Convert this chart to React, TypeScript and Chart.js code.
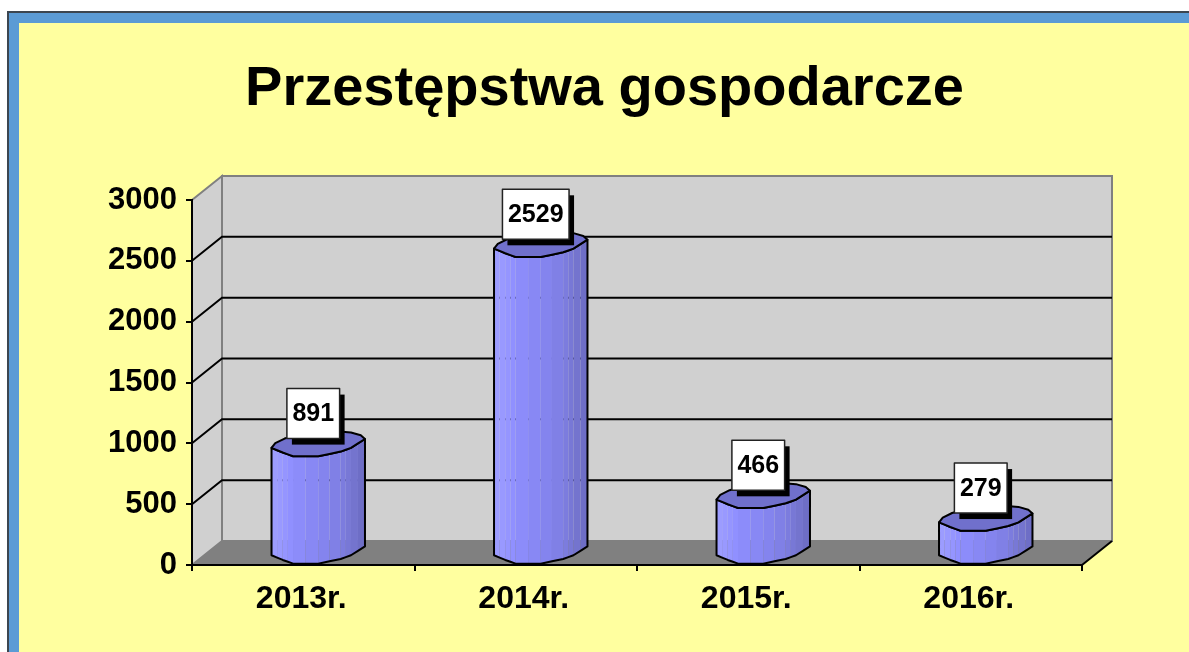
import React, { useEffect, useRef } from "react";
import { Chart, registerables } from "chart.js";

Chart.register(...registerables);

const titleText = "Przestępstwa gospodarcze";
const categories = ["2013r.", "2014r.", "2015r.", "2016r."];
const values = [891, 2529, 466, 279];
const yTickStep = 500;
const yMax = 3000;

const FONT = '"Liberation Sans", Arial, sans-serif';
const DEPTH_X = 30;
const DEPTH_Y = 24;

// Outline of a bar's cap, as fractions of half-width
const capFront: [number, number][] = [
  [-1, 0.07],
  [-0.76, 0.17],
  [-0.54, 0.25],
  [0, 0.25],
  [0.48, 0.15],
  [0.7, 0.07],
  [1, -0.12],
];
const capBack: [number, number][] = [
  [0.91, -0.2],
  [0.7, -0.26],
  [0.2, -0.3],
  [-0.4, -0.22],
  [-0.72, -0.13],
  [-0.92, -0.03],
];
const stripColors = [
  "#9C9CFF", "#9999FF", "#9595FF", "#9090FF", "#8C8CFA", "#8888F4",
  "#8484EE", "#8080E6", "#7C7CDE", "#7878D6", "#7474CE", "#6E6EC6",
];

const frameBackground = {
  id: "frameBackground",
  beforeDraw(chart: any) {
    const { ctx, width, height } = chart;
    ctx.save();
    ctx.fillStyle = "#FFFFFF";
    ctx.fillRect(0, 0, width, height);
    ctx.fillStyle = "#3C4650";
    ctx.fillRect(7, 11, width - 7, height - 11);
    ctx.fillStyle = "#5B9BD5";
    ctx.fillRect(9, 13, width - 9, height - 13);
    ctx.fillStyle = "#FFFF9F";
    ctx.fillRect(19, 23, width - 19, height - 23);
    ctx.restore();
  },
};

const walls3d = {
  id: "walls3d",
  beforeDraw(chart: any) {
    const { ctx, chartArea: a, scales } = chart;
    const y = scales.y;
    const poly = (pts: number[][], fill: string | null, stroke: string | null, lw = 2) => {
      ctx.beginPath();
      pts.forEach(([px, py], i) => (i ? ctx.lineTo(px, py) : ctx.moveTo(px, py)));
      ctx.closePath();
      if (fill) { ctx.fillStyle = fill; ctx.fill(); }
      if (stroke) { ctx.strokeStyle = stroke; ctx.lineWidth = lw; ctx.stroke(); }
    };
    ctx.save();
    const dx = DEPTH_X, dy = DEPTH_Y;
    poly([[a.left + dx, a.top - dy], [a.right + dx, a.top - dy], [a.right + dx, a.bottom - dy], [a.left + dx, a.bottom - dy]], "#D0D0D0", "#808080");
    poly([[a.left, a.top], [a.left + dx, a.top - dy], [a.left + dx, a.bottom - dy], [a.left, a.bottom]], "#D0D0D0", "#808080");
    poly([[a.left, a.bottom], [a.left + dx, a.bottom - dy], [a.right + dx, a.bottom - dy], [a.right, a.bottom]], "#808080", null);
    ctx.strokeStyle = "#000000";
    ctx.lineWidth = 2;
    y.ticks.forEach((t: any) => {
      if (t.value <= 0 || t.value >= yMax) return;
      const py = y.getPixelForValue(t.value);
      ctx.beginPath();
      ctx.moveTo(a.left, py);
      ctx.lineTo(a.left + dx, py - dy);
      ctx.lineTo(a.right + dx, py - dy);
      ctx.stroke();
    });
    ctx.beginPath();
    ctx.moveTo(a.right, a.bottom);
    ctx.lineTo(a.right + dx, a.bottom - dy);
    ctx.stroke();
    ctx.restore();
  },
};

const cylinders = {
  id: "cylinders",
  afterDatasetsDraw(chart: any) {
    const { ctx } = chart;
    const bars = chart.getDatasetMeta(0).data;
    ctx.save();
    bars.forEach((bar: any) => {
      const hw = bar.width / 2;
      const cx = bar.x + DEPTH_X / 2;
      const topY = bar.y - DEPTH_Y / 2;
      const baseY = bar.base - DEPTH_Y / 2;
      const front: [number, number][] = capFront.map(([u, v]) => [u * hw, v * hw]);
      // subdivide so the shading has narrow facets
      const pts: [number, number][] = [];
      front.forEach((p, i) => {
        if (i > 0) {
          const q = front[i - 1];
          pts.push([(p[0] + q[0]) / 2, (p[1] + q[1]) / 2]);
        }
        pts.push(p);
      });
      // body facets
      for (let i = 0; i < pts.length - 1; i++) {
        ctx.beginPath();
        ctx.moveTo(cx + pts[i][0], topY + pts[i][1]);
        ctx.lineTo(cx + pts[i + 1][0], topY + pts[i + 1][1]);
        ctx.lineTo(cx + pts[i + 1][0], baseY + pts[i + 1][1]);
        ctx.lineTo(cx + pts[i][0], baseY + pts[i][1]);
        ctx.closePath();
        ctx.fillStyle = stripColors[i];
        ctx.fill();
      }
      ctx.strokeStyle = "#000000";
      ctx.lineWidth = 2;
      ctx.lineJoin = "round";
      // body outline
      ctx.beginPath();
      pts.forEach((p, i) => (i ? ctx.lineTo(cx + p[0], topY + p[1]) : ctx.moveTo(cx + p[0], topY + p[1])));
      [...pts].reverse().forEach((p) => ctx.lineTo(cx + p[0], baseY + p[1]));
      ctx.closePath();
      ctx.stroke();
      // cap
      ctx.beginPath();
      pts.forEach((p, i) => (i ? ctx.lineTo(cx + p[0], topY + p[1]) : ctx.moveTo(cx + p[0], topY + p[1])));
      capBack.forEach(([u, v]) => ctx.lineTo(cx + u * hw, topY + v * hw));
      ctx.closePath();
      ctx.fillStyle = "#7070CC";
      ctx.fill();
      ctx.stroke();
    });
    // value labels
    ctx.font = `bold 25px ${FONT}`;
    ctx.textAlign = "center";
    ctx.textBaseline = "middle";
    bars.forEach((bar: any, i: number) => {
      const text = String(values[i]);
      const w = ctx.measureText(text).width + 11;
      const h = 50;
      const cx = bar.x + DEPTH_X / 2 - 5;
      const bottom = bar.y - DEPTH_Y / 2 - 6;
      const left = cx - w / 2;
      const top = bottom - h;
      ctx.fillStyle = "#000000";
      ctx.fillRect(left + 5, top + 6, w, h);
      ctx.fillStyle = "#FFFFFF";
      ctx.fillRect(left, top, w, h);
      ctx.strokeStyle = "#222222";
      ctx.lineWidth = 1.5;
      ctx.strokeRect(left, top, w, h);
      ctx.fillStyle = "#000000";
      ctx.fillText(text, cx, top + h / 2 + 1);
    });
    ctx.restore();
  },
};

export default function App() {
  const ref = useRef<HTMLCanvasElement>(null);
  useEffect(() => {
    document.body.style.margin = "0";
    document.body.style.overflow = "hidden";
    const chart = new Chart(ref.current as HTMLCanvasElement, {
      type: "bar",
      data: {
        labels: categories,
        datasets: [
          {
            data: values,
            backgroundColor: "rgba(0,0,0,0)",
            borderWidth: 0,
            barPercentage: 0.42,
            categoryPercentage: 1,
          },
        ],
      },
      options: {
        responsive: false,
        animation: false,
        events: [],
        layout: { padding: { top: 62, left: 87, right: 67, bottom: 0 } },
        plugins: {
          legend: { display: false },
          tooltip: { enabled: false },
          title: {
            display: true,
            text: titleText,
            color: "#000000",
            font: { family: FONT, size: 56, weight: "bold", lineHeight: 1 },
            padding: { top: 0, bottom: 82 },
          },
        },
        scales: {
          x: {
            afterFit(s: any) { s.height = 87; },
            grid: { drawOnChartArea: false, color: "#000000", lineWidth: 2, tickLength: 6 },
            border: { color: "#000000", width: 2 },
            ticks: {
              color: "#000000",
              font: { family: FONT, size: 32, weight: "bold" },
              padding: 9,
              labelOffset: -2,
              maxRotation: 0,
              autoSkip: false,
            },
          },
          y: {
            min: 0,
            max: yMax,
            afterFit(s: any) { s.width = 105; },
            grid: { drawOnChartArea: false, color: "#000000", lineWidth: 2, tickLength: 6 },
            border: { color: "#000000", width: 2 },
            ticks: {
              stepSize: yTickStep,
              color: "#000000",
              font: { family: FONT, size: 31, weight: "bold" },
              padding: 9,
              callback: (v: any) => String(v),
            },
          },
          // empty right-hand axis: reserves the space the 3D depth occupies
          depthSpace: {
            type: "linear",
            position: "right",
            afterFit(s: any) { s.width = 40; },
            grid: { display: false },
            border: { display: false },
            ticks: { display: false },
          },
        },
      },
      plugins: [frameBackground, walls3d, cylinders],
    } as any);
    return () => chart.destroy();
  }, []);
  return <canvas ref={ref} width={1189} height={652} style={{ display: "block" }} />;
}
